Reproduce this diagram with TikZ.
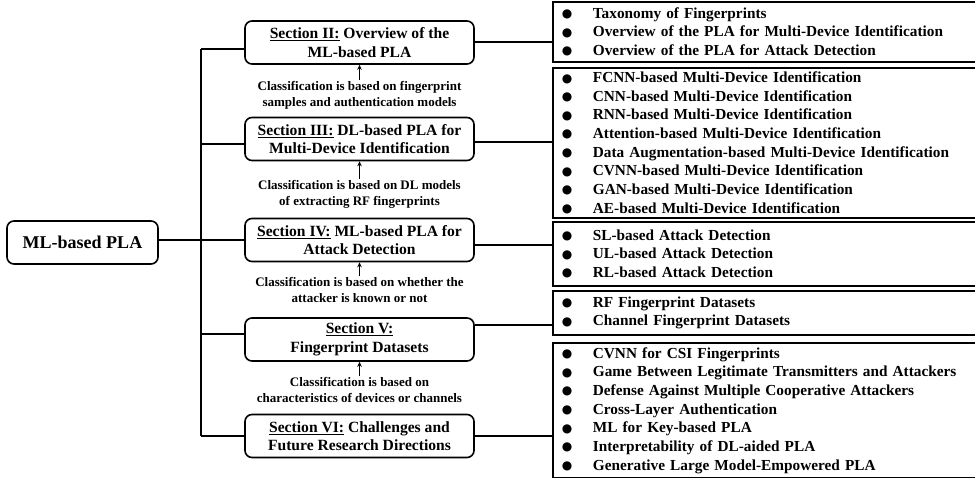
\documentclass[tikz,border=0pt]{standalone}
\usepackage{fontspec}
\setmainfont{Liberation Serif}
\newfontfamily\symf{DejaVu Sans}
\usetikzlibrary{arrows.meta}
\tikzset{
  secbox/.style={draw, line width=1.6pt, rounded corners=7pt, minimum width=229pt, minimum height=43pt,
    align=center, font=\fontsize{15.6}{18.5}\selectfont\bfseries, inner sep=2pt},
  rootbox/.style={draw, line width=1.6pt, rounded corners=7pt, minimum width=151pt, minimum height=43pt,
    font=\fontsize{18}{20}\selectfont\bfseries},
  listbox/.style={draw, line width=1.8pt, anchor=north west, minimum width=435pt, text width=417pt,
    align=left, inner xsep=9pt, inner ysep=0pt, font=\fontsize{15.3}{18.65}\selectfont\bfseries},
  clabel/.style={align=center, font=\fontsize{13}{15.8}\selectfont\bfseries, inner sep=1pt},
  conn/.style={line width=1.5pt},
  uparrow/.style={line width=1pt, -{Stealth[length=5pt,width=4.5pt]}},
}
\newcommand{\bitem}{\makebox[31pt][l]{\raisebox{0.5pt}{\fontsize{12}{12}\symf ●}}}
\begin{document}
\begin{tikzpicture}[x=1pt,y=-1pt]
\useasboundingbox (0,0) rectangle (975,478);

% root
\node[rootbox] (root) at (82.5,242.5) {ML-based PLA};

% section boxes
\node[secbox] (s2) at (359.5,42.5) {\underline{Section II:} Overview of the\\ML-based PLA};
\node[secbox] (s3) at (359.5,139) {\underline{Section III:} DL-based PLA for\\Multi-Device Identification};
\node[secbox] (s4) at (359.5,240) {\underline{Section IV:} ML-based PLA for\\Attack Detection};
\node[secbox] (s5) at (359.5,339.5) {\underline{Section V:}\\Fingerprint Datasets};
\node[secbox] (s6) at (359.5,436) {\underline{Section VI:} Challenges and\\Future Research Directions};

% classification labels
\node[clabel] (c2) at (359.5,95) {Classification is based on fingerprint\\samples and authentication models};
\node[clabel] (c3) at (359.5,194) {Classification is based on DL models\\of extracting RF fingerprints};
\node[clabel] (c4) at (359.5,290) {Classification is based on whether the\\attacker is known or not};
\node[clabel] (c5) at (359.5,390) {Classification is based on\\characteristics of devices or channels};

\draw[uparrow] (c2.north) -- (s2.south);
\draw[uparrow] (c3.north) -- (s3.south);
\draw[uparrow] (c4.north) -- (s4.south);
\draw[uparrow] (c5.north) -- (s5.south);

% list boxes
\node[listbox, minimum height=60pt] (r1) at (552,1) {%
\bitem Taxonomy of Fingerprints\\
\bitem Overview of the PLA for Multi-Device Identification\\
\bitem Overview of the PLA for Attack Detection};
\node[listbox, minimum height=150pt] (r2) at (552,67) {%
\bitem FCNN-based Multi-Device Identification\\
\bitem CNN-based Multi-Device Identification\\
\bitem RNN-based Multi-Device Identification\\
\bitem Attention-based Multi-Device Identification\\
\bitem Data Augmentation-based Multi-Device Identification\\
\bitem CVNN-based Multi-Device Identification\\
\bitem GAN-based Multi-Device Identification\\
\bitem AE-based Multi-Device Identification};
\node[listbox, minimum height=64pt] (r3) at (552,221) {%
\bitem SL-based Attack Detection\\
\bitem UL-based Attack Detection\\
\bitem RL-based Attack Detection};
\node[listbox, minimum height=44pt] (r4) at (552,290) {%
\bitem RF Fingerprint Datasets\\
\bitem Channel Fingerprint Datasets};
\node[listbox, minimum height=135pt] (r5) at (552,342) {%
\bitem CVNN for CSI Fingerprints\\
\bitem Game Between Legitimate Transmitters and Attackers\\
\bitem Defense Against Multiple Cooperative Attackers\\
\bitem Cross-Layer Authentication\\
\bitem ML for Key-based PLA\\
\bitem Interpretability of DL-aided PLA\\
\bitem Generative Large Model-Empowered PLA};

% trunk and branches (left)
\coordinate (j2) at (201,49);
\coordinate (j3) at (201,144);
\coordinate (j5) at (201,334);
\coordinate (j6) at (201,436);
\draw[conn] (j2) -- (j6);
\draw[conn] (j2) -- (j2 -| s2.west);
\draw[conn] (j3) -- (j3 -| s3.west);
\draw[conn] (root.east |- s4.west) -- (s4.west);
\draw[conn] (j5) -- (j5 -| s5.west);
\draw[conn] (j6) -- (j6 -| s6.west);

% branches (right)
\coordinate (k2) at (0,42);
\coordinate (k3) at (0,142);
\coordinate (k4) at (0,245);
\coordinate (k5) at (0,325);
\coordinate (k6) at (0,436);
\draw[conn] (s2.east |- k2) -- (r1.west |- k2);
\draw[conn] (s3.east |- k3) -- (r2.west |- k3);
\draw[conn] (s4.east |- k4) -- (r3.west |- k4);
\draw[conn] (s5.east |- k5) -- (r4.west |- k5);
\draw[conn] (s6.east |- k6) -- (r5.west |- k6);
\end{tikzpicture}
\end{document}
